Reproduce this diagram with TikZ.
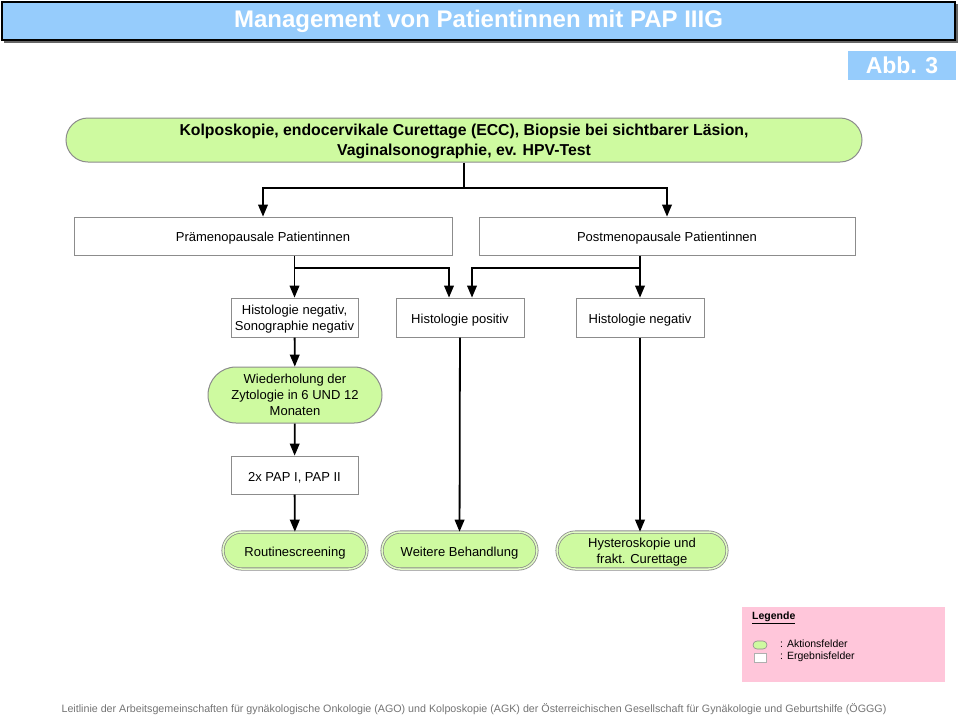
\documentclass[tikz,border=0pt]{standalone}
\usepackage{fontspec}
\setmainfont{Liberation Sans}
\usepackage{tikz}
\usetikzlibrary{arrows,calc,shapes.misc}
\definecolor{titleblue}{RGB}{150,204,252}
\definecolor{actgreen}{RGB}{206,250,160}
\definecolor{legpink}{RGB}{255,198,218}
\definecolor{boxgray}{RGB}{140,140,140}
\tikzset{result/.style={rectangle,draw=boxgray,fill=white,line width=1pt,inner sep=0pt,align=center,font=\fontsize{13}{16}\selectfont}}
\tikzset{action/.style={rounded rectangle,draw=boxgray,fill=actgreen,line width=1pt,inner sep=0pt,align=center,font=\fontsize{13}{16}\selectfont}}
\tikzset{oneline/.style={text height=14.5pt}}

\begin{document}
\begin{tikzpicture}
[x=1pt, y=-1pt, arr/.style={-triangle 45,line width=1.8pt},
 final/.style={action,double=white!40!actgreen,double distance=1.5pt,line width=0.8pt}]
\useasboundingbox (0,0) rectangle (960,716);

% title
\fill[black!60] (4,4) rectangle (958,43);
\node (title) at (478.5,21)[rectangle,draw=black,line width=1.5pt,fill=titleblue,minimum width=953,minimum height=38,inner sep=0pt,text=white,font=\fontsize{24}{28}\bfseries\selectfont]{Management von Patientinnen mit PAP IIIG};
\node (abb) at (902,65.5)[rectangle,fill=titleblue,minimum width=108,minimum height=29,inner sep=0pt,text=white,font=\fontsize{23}{26}\bfseries\selectfont]{Abb. 3};

% boxes
\node (top) at (464,140)[action,minimum width=796,minimum height=44,text depth=-2.7pt,font=\fontsize{15.8}{20}\bfseries\selectfont]{Kolposkopie, endocervikale Curettage (ECC), Biopsie bei sichtbarer Läsion,\\Vaginalsonographie, ev. HPV-Test};
\node (pre) at (263,236)[result,oneline,minimum width=378,minimum height=38]{Prämenopausale Patientinnen};
\node (post) at (667,236)[result,oneline,minimum width=376,minimum height=38]{Postmenopausale Patientinnen};
\node (hn) at (294.5,317.5)[result,minimum width=127,minimum height=39,text depth=-4pt]{Histologie negativ,\\Sonographie negativ};
\node (hp) at (460,317.5)[result,oneline,minimum width=128,minimum height=39]{Histologie positiv};
\node (hneg) at (640,317.5)[result,oneline,minimum width=128,minimum height=39]{Histologie negativ};
\node (wdh) at (295,395)[action,minimum width=174,minimum height=56,text depth=-3pt]{Wiederholung der\\Zytologie in 6 UND 12\\Monaten};
\node (pap) at (294.5,475)[result,oneline,minimum width=127,minimum height=38]{2x PAP I, PAP II};
\node (rout) at (295,550.5)[final,oneline,minimum width=144,minimum height=37]{Routinescreening};
\node (weit) at (459.5,550.5)[final,oneline,minimum width=155,minimum height=37]{Weitere Behandlung};
\node (hyst) at (642,550.5)[final,minimum width=170,minimum height=37,text depth=-3.3pt]{Hysteroskopie und\\frakt. Curettage};

% connectors
\coordinate (j1) at (464,188);
\coordinate (j2) at (294.5,268);
\coordinate (j3) at (640,268);
\draw[line width=1.8pt] (top) -- (j1);
\draw[arr] (j1) -| (pre);
\draw[arr] (j1) -| (post);
\draw[line width=1.8pt] (pre.south -| j2) -- (j2);
\draw[arr] (j2) -- (hn);
\draw[arr] (j2) -| ([xshift=-11]hp.north);
\draw[line width=1.8pt] (post.south -| j3) -- (j3);
\draw[arr] (j3) -- (hneg);
\draw[arr] (j3) -| ([xshift=12]hp.north);
\draw[arr] (hn) -- (wdh);
\draw[arr] (wdh) -- (pap);
\draw[arr] (pap) -- (rout);
\draw[arr] (hp) -- (weit);
\draw[arr] (hneg.south) -- (hneg.south |- hyst.north);

% legend
\fill[legpink] (742,607) rectangle (945,682);
\node (ltext) at (752,618)[anchor=west,inner sep=0pt,font=\fontsize{10.5}{12}\bfseries\selectfont]{\underline{Legende}};
\node (lact) at (760,645)[rounded rectangle,draw=boxgray,fill=actgreen,minimum width=14,minimum height=8,inner sep=0pt,line width=0.6pt]{};
\node (lres) at (760,657.5)[rectangle,draw=boxgray!70,fill=white,minimum width=12,minimum height=9,inner sep=0pt,line width=0.6pt]{};
\node (acttext) at (780,644)[anchor=west,inner sep=0pt,font=\fontsize{10.5}{12}\selectfont]{: Aktionsfelder};
\node (restext) at (780,657)[anchor=west,inner sep=0pt,font=\fontsize{10.5}{12}\selectfont]{: Ergebnisfelder};

% footer
\node (foot) at (474,709)[inner sep=0pt,text=black!55,font=\fontsize{10.7}{12}\selectfont]{Leitlinie der Arbeitsgemeinschaften für gynäkologische Onkologie (AGO) und Kolposkopie (AGK) der Österreichischen Gesellschaft für Gynäkologie und Geburtshilfe (ÖGGG)};
\end{tikzpicture}
\end{document}
